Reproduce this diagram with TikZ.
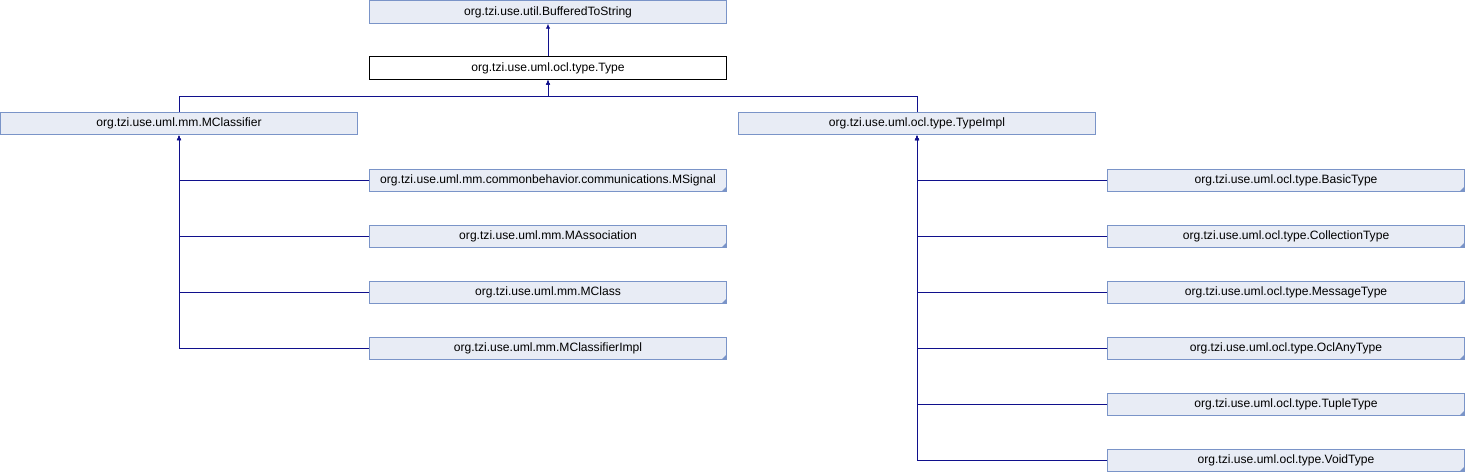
\documentclass[tikz,border=0pt]{standalone}
\usepackage{fontspec}
\setmainfont{Liberation Sans}
\usetikzlibrary{arrows.meta}
\definecolor{boxfill}{HTML}{E8ECF5}
\definecolor{boxline}{HTML}{7A94C8}
\definecolor{edge}{HTML}{10108C}
\tikzset{
  cls/.style={draw=boxline, fill=boxfill, line width=0.9pt, minimum width=357pt, minimum height=22.5pt, inner sep=0pt, font=\fontsize{12.1}{14}\selectfont},
  cur/.style={cls, draw=black, fill=white},
  inh/.style={draw=edge, line width=0.9pt, -{Latex[length=5pt,width=4.5pt]}},
  fold/.style={fill=boxline, draw=none},
}
\begin{document}
\begin{tikzpicture}[x=1pt,y=-1pt]
\useasboundingbox (0,0) rectangle (1466,472);
\node[cls] (bts) at (548,12) {org.tzi.use.util.BufferedToString};
\node[cur] (type) at (548,68) {org.tzi.use.uml.ocl.type.Type};
\node[cls] (mc) at (179,123.5) {org.tzi.use.uml.mm.MClassifier};
\node[cls] (ti) at (917,123.5) {org.tzi.use.uml.ocl.type.TypeImpl};
\node[cls] (ms) at (548,180.5) {org.tzi.use.uml.mm.commonbehavior.communications.MSignal};
\node[cls] (ma) at (548,236.5) {org.tzi.use.uml.mm.MAssociation};
\node[cls] (mcl) at (548,292.5) {org.tzi.use.uml.mm.MClass};
\node[cls] (mci) at (548,348.5) {org.tzi.use.uml.mm.MClassifierImpl};
\node[cls] (bt) at (1286,180.5) {org.tzi.use.uml.ocl.type.BasicType};
\node[cls] (ct) at (1286,236.5) {org.tzi.use.uml.ocl.type.CollectionType};
\node[cls] (mt) at (1286,292.5) {org.tzi.use.uml.ocl.type.MessageType};
\node[cls] (oat) at (1286,348.5) {org.tzi.use.uml.ocl.type.OclAnyType};
\node[cls] (tt) at (1286,404.5) {org.tzi.use.uml.ocl.type.TupleType};
\node[cls] (vt) at (1286,460.5) {org.tzi.use.uml.ocl.type.VoidType};
\coordinate (j) at (548,96);
\draw[inh] (type.north) -- (bts.south);
\draw[inh] (mc.north) |- (j) -- (type.south);
\draw[inh] (ti.north) |- (j) -- (type.south);
\foreach \c in {ms,ma,mcl,mci}{
  \draw[inh] (\c.west) -| (mc.south);
  \fill[fold] ([shift={(-0.5,-0.5)}]\c.south east) -- ++(-5,0) -- ++(5,-5) -- cycle;
}
\foreach \c in {bt,ct,mt,oat,tt,vt}{
  \draw[inh] (\c.west) -| (ti.south);
  \fill[fold] ([shift={(-0.5,-0.5)}]\c.south east) -- ++(-5,0) -- ++(5,-5) -- cycle;
}
\end{tikzpicture}
\end{document}
